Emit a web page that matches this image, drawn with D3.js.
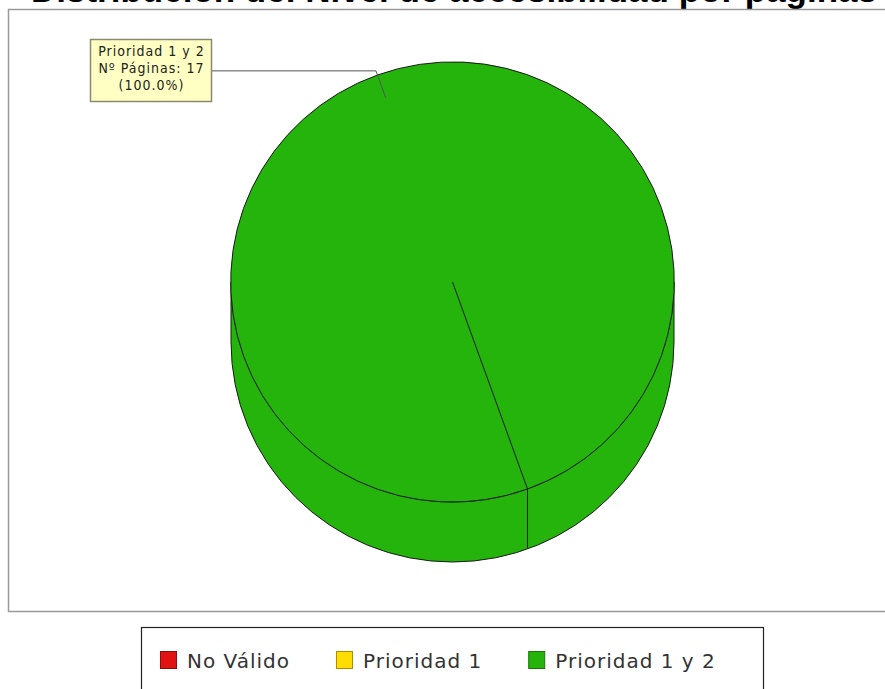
<!DOCTYPE html>
<html>
<head>
<meta charset="utf-8">
<script src="https://cdn.jsdelivr.net/npm/d3@7"></script>
<style>
  body { margin: 0; background: #fff; }
</style>
</head>
<body>
<div id="chart"></div>
<script>
// data
var title = "Distribución del Nivel de accesibilidad por páginas";
var categories = ["No Válido", "Prioridad 1", "Prioridad 1 y 2"];
var pages = [0, 0, 17];
var colors = ["#e01212", "#ffdd00", "#25b40c"];

function main() {
    var width = 885, height = 689;

    var svg = d3.select("#chart")
        .append("svg")
        .attr("width", width)
        .attr("height", height);

    // title (cut off at the top in the original)
    svg.append("text")
        .attr("x", 454)
        .attr("y", 2)
        .attr("text-anchor", "middle")
        .style("font-family", "Liberation Sans, Arial, sans-serif")
        .style("font-weight", "bold")
        .style("font-size", "35px")
        .text(title);

    // plot border
    svg.append("rect")
        .attr("x", 8.5).attr("y", 9.5)
        .attr("width", 900).attr("height", 602)
        .attr("fill", "#fff")
        .attr("stroke", "#9a9a9a")
        .attr("stroke-width", 1.5);

    var color = d3.scaleOrdinal().domain(categories).range(colors);

    // 3d pie geometry
    var cx = 452.5, cy = 282, rx = 221.5, ry = 220, depth = 60;
    var total = d3.sum(pages);

    var pie = d3.pie()
        .sort(null)
        .startAngle(160.2 * Math.PI / 180)
        .endAngle((160.2 + 360) * Math.PI / 180);
    var arcs = pie(pages);

    var arc = d3.arc().innerRadius(0).outerRadius(rx);

    function pt(a, r) {
        return [cx + Math.sin(a) * r, cy - Math.cos(a) * r * ry / rx];
    }

    var main = arcs.find(function (d) { return d.value > 0; });

    // side wall (front half)
    svg.append("path")
        .attr("d", "M" + (cx - rx) + "," + cy +
            " L" + (cx - rx) + "," + (cy + depth) +
            " A" + rx + "," + ry + " 0 0 0 " + (cx + rx) + "," + (cy + depth) +
            " L" + (cx + rx) + "," + cy +
            " A" + rx + "," + ry + " 0 0 1 " + (cx - rx) + "," + cy + " Z")
        .attr("fill", color(categories[main.index]))
        .attr("stroke", "#1a1a1a")
        .attr("stroke-width", 1);

    // seam on the side wall
    var s0 = pt(main.startAngle, rx);
    svg.append("line")
        .attr("x1", s0[0]).attr("y1", s0[1])
        .attr("x2", s0[0]).attr("y2", s0[1] + depth * 0.98)
        .attr("stroke", "#1a1a1a").attr("stroke-width", 1);

    // top face
    svg.append("g")
        .attr("transform", "translate(" + cx + "," + cy + ") scale(1," + (ry / rx) + ")")
        .selectAll("path")
        .data(arcs.filter(function (d) { return d.value > 0; }))
        .enter()
        .append("path")
        .attr("d", arc)
        .attr("fill", function (d) { return color(categories[d.index]); })
        .attr("stroke", "#1a1a1a")
        .attr("stroke-width", 1)
        .attr("vector-effect", "non-scaling-stroke");

    // seam on the top face
    svg.append("line")
        .attr("x1", cx).attr("y1", cy)
        .attr("x2", s0[0]).attr("y2", s0[1])
        .attr("stroke", "#1a1a1a").attr("stroke-width", 1);

    // label with link line
    var mid = (main.startAngle + main.endAngle) / 2;
    var pIn = pt(mid, rx * 0.89);
    var pOut = pt(mid, rx * 1.02);
    svg.append("polyline")
        .attr("points", [[212, pOut[1]], pOut, pIn].join(" "))
        .attr("fill", "none")
        .attr("stroke", "#555")
        .attr("stroke-width", 1);

    var label = svg.append("g").attr("transform", "translate(90.5,39.5)");
    label.append("rect")
        .attr("width", 121).attr("height", 62)
        .attr("fill", "#ffffc4")
        .attr("stroke", "#8a8a70")
        .attr("stroke-width", 1.5);
    var lines = [categories[main.index],
        "Nº Páginas: " + main.value,
        "(" + (main.value / total * 100).toFixed(1) + "%)"];
    label.selectAll("text")
        .data(lines)
        .enter()
        .append("text")
        .attr("x", 61)
        .attr("y", function (d, i) { return 16 + i * 17; })
        .attr("text-anchor", "middle")
        .style("font-family", "DejaVu Sans Condensed, DejaVu Sans, sans-serif")
        .style("font-size", "14px")
        .style("letter-spacing", "1px")
        .attr("fill", "#222")
        .text(function (d) { return d; });

    // legend
    svg.append("rect")
        .attr("x", 141.5).attr("y", 627.5)
        .attr("width", 622).attr("height", 80)
        .attr("fill", "#fff")
        .attr("stroke", "#222")
        .attr("stroke-width", 1.2);

    var lx = 160;
    var item = svg.append("g");
    categories.forEach(function (c, i) {
        var g = item.append("g").attr("transform", "translate(" + lx + ",651)");
        g.append("rect")
            .attr("x", 0.5).attr("y", 0.5)
            .attr("width", 16).attr("height", 17)
            .attr("fill", color(c))
            .attr("stroke", d3.rgb(color(c)).darker(1.2))
            .attr("stroke-width", 1);
        var t = g.append("text")
            .attr("x", 27)
            .attr("y", 17)
            .style("font-family", "DejaVu Sans, sans-serif")
            .style("font-size", "20px")
            .style("letter-spacing", "1px")
            .attr("fill", "#333")
            .text(c);
        lx += 27 + t.node().getComputedTextLength() + 46;
    });
}
window.addEventListener('load', main);
</script>
</body>
</html>
